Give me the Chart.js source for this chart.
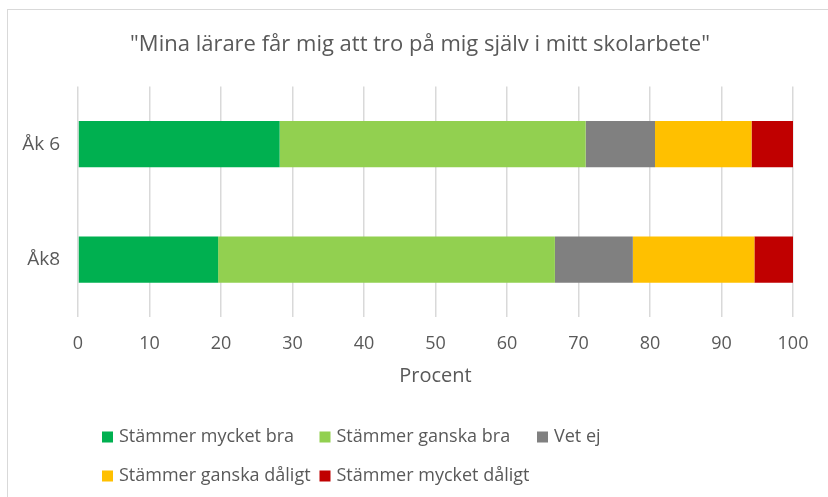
<!DOCTYPE html>
<html>
<head>
<meta charset="utf-8">
<script src="https://cdn.jsdelivr.net/npm/chart.js@4/dist/chart.umd.min.js"></script>
<style>
  html, body { margin: 0; padding: 0; background: #fff; overflow: hidden; }
  #wrap { position: relative; width: 828px; height: 497px; }
  #frame { position: absolute; left: 7px; top: 9px; width: 900px; height: 600px; border: 1px solid #d9d9d9; }
  canvas { position: absolute; left: 0; top: 0; }
</style>
</head>
<body>
<div id="wrap">
  <div id="frame"></div>
  <canvas id="chart" width="828" height="497"></canvas>
</div>
<script>
// data
let groups = ['Åk 6', 'Åk8']
let answers = ['Stämmer mycket bra', 'Stämmer ganska bra', 'Vet ej', 'Stämmer ganska dåligt', 'Stämmer mycket dåligt']
let colors = ['#00B050', '#92D050', '#808080', '#FFC000', '#C00000']

let mycketBra = [28.2, 19.6]
let ganskaBra = [42.8, 47.1]
let vetEj = [9.7, 10.9]
let ganskaDaligt = [13.5, 17.0]
let mycketDaligt = [5.8, 5.4]
let seriesValues = [mycketBra, ganskaBra, vetEj, ganskaDaligt, mycketDaligt]

let xTicks = [0, 10, 20, 30, 40, 50, 60, 70, 80, 90, 100]

let textColor = '#595959'
let fontFamily = '"Open Sans", "Noto Sans", sans-serif'

// legend in columns, like the Excel one
let columnLegend = {
    id: 'columnLegend',
    afterLayout(chart)
    {
        // the original title sits a bit right of the canvas centre
        if (chart.titleBlock) chart.titleBlock.left = 47
    },
    afterDraw(chart)
    {
        let ctx = chart.ctx
        let left = 102, colWidth = 217.5, rows = [437, 476], perRow = 3
        ctx.save()
        ctx.font = '18px ' + fontFamily
        ctx.textBaseline = 'middle'
        ctx.textAlign = 'left'
        chart.data.datasets.forEach((ds, i) => {
            let x = left + (i % perRow) * colWidth
            let y = rows[Math.floor(i / perRow)]
            ctx.fillStyle = ds.backgroundColor
            ctx.fillRect(x, y - 5.5, 11, 11)
            ctx.fillStyle = textColor
            ctx.fillText(ds.label, x + 17, y)
        })
        ctx.restore()
    }
}

let datasets = answers.map((name, i) => ({
    label: name,
    data: seriesValues[i],
    backgroundColor: colors[i],
    borderWidth: 0,
    categoryPercentage: 1,
    barPercentage: 0.4
}))

let ctxChart = document.getElementById('chart').getContext('2d')
let chart = new Chart(ctxChart, {
    type: 'bar',
    data: { labels: groups, datasets: datasets },
    plugins: [columnLegend],
    options: {
        indexAxis: 'y',
        responsive: false,
        animation: false,
        layout: { padding: { top: 0, left: 0, right: 35, bottom: 105 } },
        plugins: {
            legend: { display: false },
            tooltip: { enabled: false },
            title: {
                display: true,
                text: '"Mina lärare får mig att tro på mig själv i mitt skolarbete"',
                color: textColor,
                font: { family: fontFamily, size: 22, weight: 'normal', lineHeight: 1.2 },
                padding: { top: 32, bottom: 28 }
            }
        },
        scales: {
            x: {
                stacked: true,
                min: 0,
                max: 100,
                afterBuildTicks: scale => { scale.ticks = xTicks.map(v => ({ value: v })) },
                grid: { color: '#d9d9d9', lineWidth: 1.5, drawTicks: false },
                border: { display: false },
                ticks: { color: textColor, padding: 16, font: { family: fontFamily, size: 18 } },
                title: {
                    display: true,
                    text: 'Procent',
                    color: textColor,
                    font: { family: fontFamily, size: 20 },
                    padding: { top: -7, bottom: 4 }
                }
            },
            y: {
                stacked: true,
                afterFit: scale => { scale.width = 78 },
                grid: { display: false, drawTicks: false },
                border: { display: false },
                ticks: { color: textColor, padding: 18, font: { family: fontFamily, size: 19 } }
            }
        }
    }
})
</script>
</body>
</html>
